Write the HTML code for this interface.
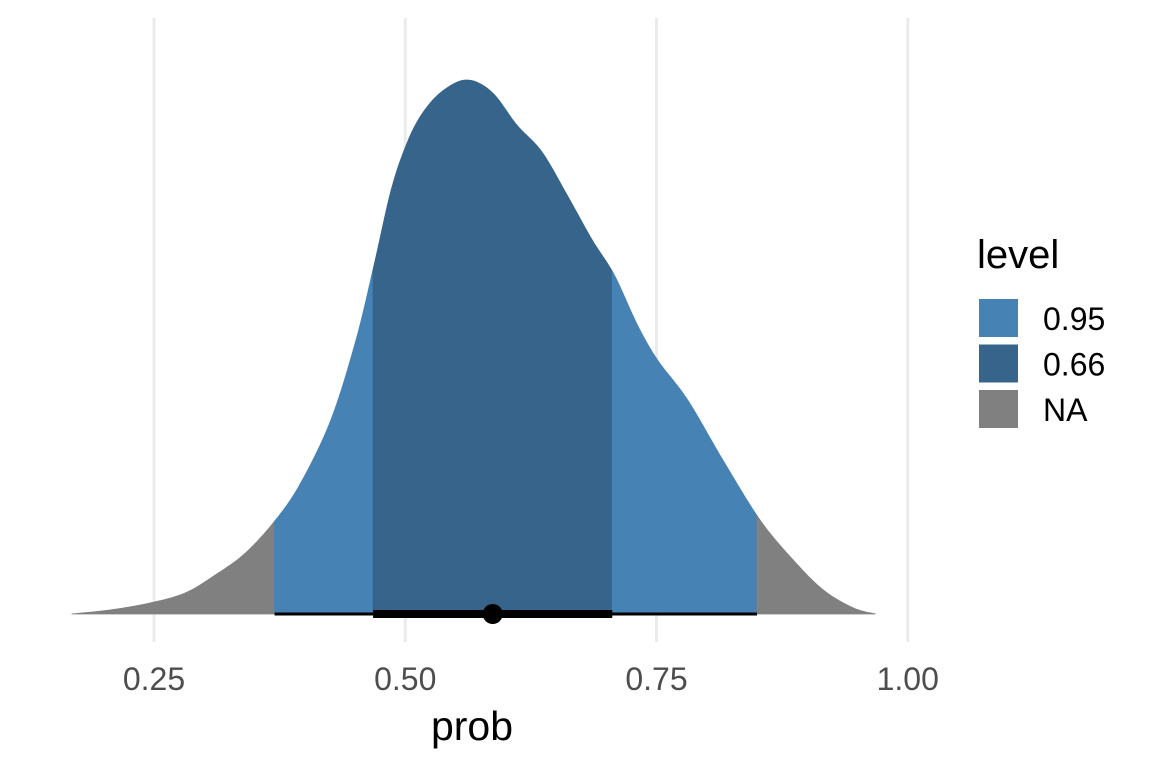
<!DOCTYPE html>
<html><head><meta charset="utf-8"><style>
html,body{margin:0;padding:0;background:#fff;}
svg{display:block;font-family:"Liberation Sans",sans-serif;}
</style></head><body>
<svg id="chart" width="1152" height="768"></svg>
<script>
const xs = [0.168,0.206,0.246,0.281,0.311,0.341,0.371,0.396,0.426,0.451,0.469,0.486,0.501,0.516,0.536,0.561,0.586,0.611,0.636,0.661,0.686,0.708,0.731,0.751,0.781,0.816,0.853,0.886,0.916,0.946,0.968];
const dens = [0,0.04,0.11,0.21,0.39,0.61,0.94,1.31,1.94,2.74,3.49,4.24,4.69,4.99,5.22,5.34,5.22,4.89,4.62,4.19,3.74,3.39,2.89,2.54,2.14,1.54,0.94,0.54,0.24,0.06,0];
const levels = ["0.95","0.66","NA"];
const levelColors = ["#4682b4","#36648b","#808080"];
const int95 = [0.370,0.850];
const int66 = [0.468,0.706];
const pointEst = 0.587;
const ticks = [0.25,0.5,0.75,1.0];
const tickLabels = ["0.25","0.50","0.75","1.00"];

const NS="http://www.w3.org/2000/svg";
const svg=document.getElementById('chart');
const X=v=>154+(v-0.25)*1005;
const base=614;
const Y=d=>base-d*100;
function mk(t,a,p){const e=document.createElementNS(NS,t);for(const k in a)e.setAttribute(k,a[k]);(p||svg).appendChild(e);return e;}
const sm=[];
for(let i=0;i<xs.length-1;i++){
 const i0=Math.max(0,i-1),i3=Math.min(xs.length-1,i+2);
 for(let k=0;k<10;k++){
  const t=k/10,t2=t*t,t3=t2*t;
  const cr=(p0,p1,p2,p3)=>0.5*((2*p1)+(-p0+p2)*t+(2*p0-5*p1+4*p2-p3)*t2+(-p0+3*p1-3*p2+p3)*t3);
  sm.push([cr(xs[i0],xs[i],xs[i+1],xs[i3]),Math.max(0,cr(dens[i0],dens[i],dens[i+1],dens[i3]))]);
 }
}
sm.push([xs[xs.length-1],dens[dens.length-1]]);
function interp(v){for(let i=0;i<sm.length-1;i++){if(v>=sm[i][0]&&v<=sm[i+1][0]){const f=(v-sm[i][0])/(sm[i+1][0]-sm[i][0]);return sm[i][1]+f*(sm[i+1][1]-sm[i][1]);}}return 0;}
function area(a,b){let pts=[[X(a),base],[X(a),Y(interp(a))]];sm.forEach(p=>{if(p[0]>a&&p[0]<b)pts.push([X(p[0]),Y(p[1])]);});pts.push([X(b),Y(interp(b))],[X(b),base]);return pts.map(p=>p.join(',')).join(' ');}

ticks.forEach((t,i)=>{
 const g=mk('line',{x1:X(t),x2:X(t),y1:18,y2:642,stroke:'#ebebeb','stroke-width':3});
 
 
 const tl=mk('text',{x:X(t),y:690,'text-anchor':'middle','font-size':32,fill:'#4d4d4d'});
 tl.textContent=tickLabels[i];
 
 
});
const segs=[[xs[0],int95[0],2],[int95[0],int66[0],0],[int66[0],int66[1],1],[int66[1],int95[1],0],[int95[1],xs[xs.length-1],2]];
segs.forEach(s=>{
 const p=mk('polygon',{points:area(s[0],s[1]),fill:levelColors[s[2]],stroke:levelColors[s[2]],'stroke-width':0.8});
 
 
});
const l1=mk('line',{x1:X(int95[0]),x2:X(int95[1]),y1:base,y2:base,stroke:'#000','stroke-width':3});


const l2=mk('line',{x1:X(int66[0]),x2:X(int66[1]),y1:base,y2:base,stroke:'#000','stroke-width':8});


const pt=mk('circle',{cx:X(pointEst),cy:base,r:10,fill:'#000'});


const xt=mk('text',{x:472,y:740,'text-anchor':'middle','font-size':41,fill:'#000'});
xt.textContent='prob';


const lt=mk('text',{x:977,y:268,'font-size':40,fill:'#000'});
lt.textContent='level';


levels.forEach((lv,i)=>{
 const y0=299+i*45.5;
 const r=mk('rect',{x:979,y:y0,width:39,height:38,fill:levelColors[i]});
 
 
 const t=mk('text',{x:1043,y:y0+31,'font-size':32,fill:'#000'});
 t.textContent=lv;
 
 
});
</script>
</body></html>
